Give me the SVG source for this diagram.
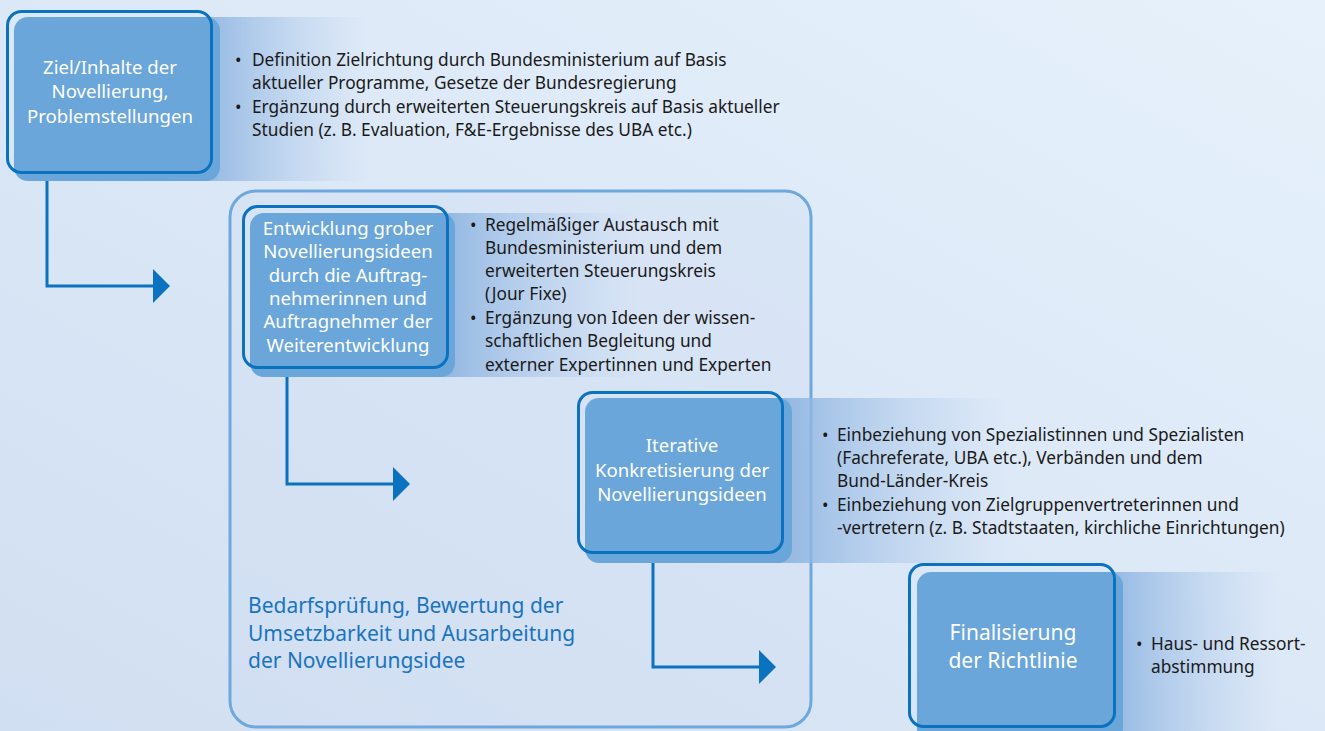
<svg xmlns="http://www.w3.org/2000/svg" width="1325" height="731" viewBox="0 0 1325 731">
<defs>
<linearGradient id="bg" x1="0" y1="1" x2="1" y2="0">
<stop offset="0" stop-color="#d1dff2"/>
<stop offset="1" stop-color="#e6f1fb"/>
</linearGradient>
<linearGradient id="band" x1="0" y1="0" x2="1" y2="0">
<stop offset="0" stop-color="#8cb3e0" stop-opacity="0.95"/>
<stop offset="1" stop-color="#b7cfee" stop-opacity="0"/>
</linearGradient>
<marker id="arr" viewBox="0 0 17 34" refX="0" refY="17" markerWidth="17" markerHeight="34" markerUnits="userSpaceOnUse" orient="auto">
<path d="M0,0 L17,17 L0,34 Z" fill="#0b72bf"/>
</marker>
<style>
.fill{fill:#6aa6da;}
.outline{fill:none;stroke:#0b72bf;stroke-width:3;}
.band{fill:url(#band);}
.nt{font-family:"Noto Sans","Open Sans",sans-serif;font-size:18.6px;fill:#ffffff;text-anchor:middle;}
.nt4{font-family:"Noto Sans","Open Sans",sans-serif;font-size:21px;fill:#ffffff;text-anchor:middle;}
.bt{font-family:"Noto Sans","Open Sans",sans-serif;font-size:17.3px;fill:#1a1a1a;}
.lbl{font-family:"Noto Sans","Open Sans",sans-serif;font-size:21px;fill:#1a74be;}
.conn{fill:none;stroke:#0b72bf;stroke-width:3;}
</style>
</defs>
<rect x="0" y="0" width="1325" height="731" fill="url(#bg)"/>

<g id="container">
<rect x="230" y="191" width="581" height="536" rx="26" fill="#cfdef2" fill-opacity="0.35" stroke="#6fa8dc" stroke-width="3"/>
<text class="lbl" x="248" y="613">Bedarfsprüfung, Bewertung der</text>
<text class="lbl" x="248" y="641">Umsetzbarkeit und Ausarbeitung</text>
<text class="lbl" x="248" y="668">der Novellierungsidee</text>
</g>

<g id="node1">
<rect class="band" x="200" y="17" width="170" height="164"/>
<rect class="fill" x="14" y="17" width="206" height="164" rx="14"/>
<rect class="outline" x="7.5" y="11.5" width="204" height="161" rx="14"/>
<text class="nt" x="110" y="74">Ziel/Inhalte der</text>
<text class="nt" x="110" y="98">Novellierung,</text>
<text class="nt" x="110" y="123">Problemstellungen</text>
<text class="bt" x="235" y="66">•</text>
<text class="bt" x="252" y="66">Definition Zielrichtung durch Bundesministerium auf Basis</text>
<text class="bt" x="252" y="89">aktueller Programme, Gesetze der Bundesregierung</text>
<text class="bt" x="235" y="113">•</text>
<text class="bt" x="252" y="113">Ergänzung durch erweiterten Steuerungskreis auf Basis aktueller</text>
<text class="bt" x="252" y="136">Studien (z. B. Evaluation, F&amp;E-Ergebnisse des UBA etc.)</text>
</g>

<g id="node2">
<rect class="band" x="440" y="213" width="200" height="164"/>
<rect class="fill" x="250" y="213" width="205" height="164" rx="14"/>
<rect class="outline" x="243.5" y="206.5" width="204" height="161" rx="14"/>
<text class="nt" x="348" y="235">Entwicklung grober</text>
<text class="nt" x="348" y="258">Novellierungsideen</text>
<text class="nt" x="348" y="282">durch die Auftrag-</text>
<text class="nt" x="348" y="305">nehmerinnen und</text>
<text class="nt" x="348" y="328">Auftragnehmer der</text>
<text class="nt" x="348" y="352">Weiterentwicklung</text>
<text class="bt" x="470" y="231">•</text>
<text class="bt" x="485" y="231">Regelmäßiger Austausch mit</text>
<text class="bt" x="485" y="254">Bundesministerium und dem</text>
<text class="bt" x="485" y="277">erweiterten Steuerungskreis</text>
<text class="bt" x="485" y="300">(Jour Fixe)</text>
<text class="bt" x="470" y="324">•</text>
<text class="bt" x="485" y="324">Ergänzung von Ideen der wissen-</text>
<text class="bt" x="485" y="347">schaftlichen Begleitung und</text>
<text class="bt" x="485" y="371">externer Expertinnen und Experten</text>
</g>

<g id="node3">
<rect class="band" x="775" y="398" width="235" height="165"/>
<rect class="fill" x="585" y="398" width="207" height="165" rx="14"/>
<rect class="outline" x="578.5" y="392.5" width="204" height="160" rx="14"/>
<text class="nt" x="682" y="452">Iterative</text>
<text class="nt" x="682" y="477">Konkretisierung der</text>
<text class="nt" x="682" y="501">Novellierungsideen</text>
<text class="bt" x="822" y="441">•</text>
<text class="bt" x="837" y="441">Einbeziehung von Spezialistinnen und Spezialisten</text>
<text class="bt" x="837" y="464">(Fachreferate, UBA etc.), Verbänden und dem</text>
<text class="bt" x="837" y="487">Bund-Länder-Kreis</text>
<text class="bt" x="822" y="511">•</text>
<text class="bt" x="837" y="511">Einbeziehung von Zielgruppenvertreterinnen und</text>
<text class="bt" x="837" y="534">-vertretern (z. B. Stadtstaaten, kirchliche Einrichtungen)</text>
</g>

<g id="node4">
<rect class="band" x="1105" y="572" width="175" height="170"/>
<rect class="fill" x="917" y="572" width="206" height="170" rx="14"/>
<rect class="outline" x="909.5" y="564.5" width="205" height="162" rx="14"/>
<text class="nt4" x="1013" y="640">Finalisierung</text>
<text class="nt4" x="1013" y="668">der Richtlinie</text>
<text class="bt" x="1136" y="650">•</text>
<text class="bt" x="1151" y="650">Haus- und Ressort-</text>
<text class="bt" x="1151" y="673">abstimmung</text>
</g>

<g id="connectors">
<path class="conn" d="M47,181 V286 H153" marker-end="url(#arr)"/>
<path class="conn" d="M287,377 V484 H393" marker-end="url(#arr)"/>
<path class="conn" d="M653,563 V667 H759" marker-end="url(#arr)"/>
</g>
</svg>
